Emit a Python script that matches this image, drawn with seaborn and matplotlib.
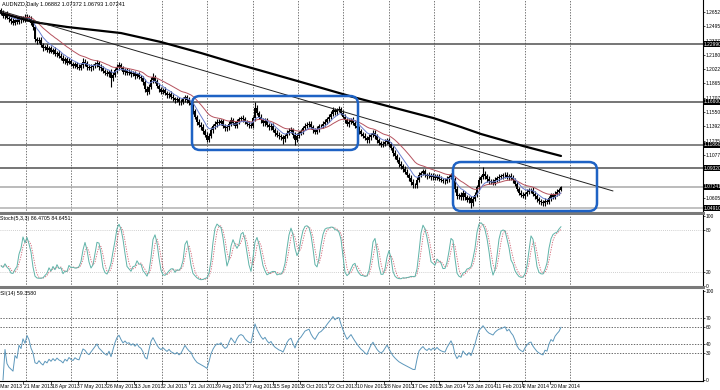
import numpy as np
import pandas as pd
import matplotlib
matplotlib.use("Agg")
import matplotlib.pyplot as plt
import matplotlib.transforms as mtransforms
from matplotlib.patches import FancyBboxPatch
import seaborn as sns

# --- chart text ---
symbol_title = "AUDNZD,Daily 1.06882 1.07372 1.06793 1.07241"
stoch_title = "Stoch(5,3,3) 86.4705 84.6451"
rsi_title = "RSI(14) 59.3580"

# --- daily bars, prices in pips (x 1e4); open = previous close ---
first_open = 12670
closes = [
    12641, 12610, 12625, 12590, 12570, 12555, 12535, 12560, 12545, 12575,
    12560, 12590, 12570, 12600, 12580, 12530, 12490, 12350, 12330, 12345,
    12290, 12250, 12270, 12235, 12255, 12215, 12230, 12190, 12205, 12170,
    12150, 12110, 12130, 12095, 12115, 12080, 12060, 12075, 12050, 12040,
    12070, 12100, 12085, 12050, 12030, 12045, 12060, 12075, 12090, 12050,
    12030, 12005, 11985, 11970, 11990, 11920, 11960, 12010, 12050, 12070,
    12030, 11995, 12010, 11985, 11990, 11965, 11975, 11950, 11965, 11935,
    11920, 11880, 11800, 11770, 11830, 11900, 11935, 11890, 11840, 11800,
    11775, 11790, 11760, 11735, 11750, 11715, 11700, 11680, 11690, 11655,
    11665, 11690, 11715, 11680, 11650, 11630, 11560, 11500, 11440, 11410,
    11380, 11340, 11300, 11245, 11290, 11350, 11390, 11420, 11440, 11430,
    11445, 11400, 11370, 11380, 11420, 11460, 11430, 11400, 11440, 11470,
    11480, 11470, 11440, 11420, 11405, 11400, 11480, 11590, 11540, 11500,
    11460, 11430, 11450, 11410, 11380, 11395, 11350, 11320, 11300, 11280,
    11270, 11250, 11280, 11320, 11345, 11355, 11300, 11245, 11290, 11320,
    11340, 11370, 11400, 11410, 11420, 11380, 11350, 11330, 11360, 11390,
    11400, 11420, 11440, 11470, 11500, 11530, 11570, 11550, 11575, 11580,
    11540, 11500, 11460, 11420, 11440, 11460, 11430, 11400, 11370, 11340,
    11310, 11290, 11260, 11240, 11270, 11300, 11320, 11280, 11240, 11210,
    11190, 11200, 11220, 11240, 11200, 11150, 11100, 11060, 11020, 10980,
    10950, 10920, 10890, 10860, 10820, 10780, 10745, 10740, 10800, 10860,
    10880, 10895, 10860, 10840, 10855, 10830, 10845, 10825, 10840, 10815,
    10800, 10790, 10785, 10810, 10830, 10850, 10810, 10700, 10620, 10640,
    10610, 10655, 10610, 10580, 10600, 10545, 10590, 10640, 10720, 10800,
    10830, 10870, 10840, 10810, 10790, 10780, 10770, 10800, 10820, 10835,
    10840, 10850, 10860, 10830, 10845, 10820, 10800, 10760, 10700, 10660,
    10640, 10625, 10650, 10670, 10685, 10690, 10650, 10620, 10590, 10570,
    10555, 10545, 10570, 10560, 10600, 10630, 10615, 10650, 10670, 10688,
    10724,
]
wick_up = [
    25, 30, 18, 35, 22, 28, 30, 20, 32, 24,
    30, 18, 35, 25, 22, 30, 28, 20, 26, 30,
    32, 25, 20, 30, 26, 22, 28, 35, 20, 25,
    28, 30, 22, 26, 32, 20, 25, 30, 22, 28,
    25, 45, 30, 22, 28, 32, 20, 26, 30, 22,
    26, 30, 22, 32, 25, 30, 28, 22, 30, 35,
    25, 30, 22, 28, 32, 22, 26, 30, 20, 28,
    22, 30, 28, 32, 30, 35, 44, 22, 28, 25,
    28, 22, 30, 26, 22, 32, 28, 20, 26, 22,
    28, 30, 25, 22, 30, 26, 32, 28, 22, 30,
    26, 32, 22, 30, 28, 32, 22, 26, 30, 32,
    28, 32, 22, 26, 30, 32, 28, 22, 30, 26,
    28, 32, 22, 26, 30, 32, 28, 70, 32, 26,
    30, 22, 28, 32, 22, 28, 30, 22, 32, 26,
    28, 30, 22, 32, 28, 30, 22, 26, 32, 22,
    26, 22, 32, 28, 30, 30, 26, 22, 32, 28,
    22, 26, 32, 22, 28, 30, 32, 26, 22, 35,
    26, 30, 32, 22, 28, 22, 30, 26, 22, 28,
    26, 22, 30, 26, 32, 22, 28, 30, 22, 26,
    22, 26, 32, 25, 28, 22, 26, 30, 22, 28,
    28, 22, 30, 26, 22, 32, 28, 22, 32, 28,
    22, 26, 30, 22, 28, 22, 30, 26, 22, 28,
    26, 22, 28, 30, 22, 26, 32, 28, 30, 22,
    28, 32, 22, 30, 26, 22, 32, 28, 30, 32,
    28, 73, 32, 26, 30, 22, 28, 32, 22, 28,
    26, 22, 30, 26, 22, 28, 30, 22, 26, 22,
    32, 26, 22, 30, 28, 22, 28, 30, 22, 28,
    22, 28, 30, 22, 28, 32, 22, 28, 30, 26,
    13,
]
wick_dn = [
    22, 28, 32, 20, 28, 30, 22, 28, 20, 30,
    28, 22, 30, 20, 28, 22, 32, 28, 30, 22,
    28, 32, 22, 28, 30, 20, 28, 22, 32, 28,
    30, 22, 28, 32, 20, 28, 22, 30, 28, 32,
    22, 30, 28, 32, 22, 28, 30, 22, 28, 32,
    28, 22, 30, 28, 32, 95, 28, 22, 28, 32,
    22, 28, 32, 22, 30, 28, 22, 32, 28, 22,
    30, 28, 32, 28, 22, 28, 30, 22, 28, 32,
    28, 30, 22, 32, 28, 22, 30, 28, 22, 28,
    30, 22, 28, 32, 22, 30, 28, 32, 30, 22,
    28, 32, 30, 30, 28, 22, 30, 28, 32, 22,
    28, 22, 32, 28, 30, 22, 28, 32, 22, 28,
    22, 30, 28, 22, 32, 28, 22, 30, 28, 32,
    28, 32, 30, 22, 28, 32, 22, 30, 28, 32,
    28, 54, 30, 22, 28, 30, 32, 60, 28, 22,
    28, 30, 22, 32, 28, 22, 30, 28, 22, 28,
    22, 28, 30, 22, 28, 32, 22, 28, 30, 22,
    28, 22, 30, 28, 32, 22, 28, 30, 22, 28,
    30, 28, 22, 32, 28, 30, 22, 28, 32, 22,
    28, 30, 22, 28, 32, 22, 30, 28, 22, 32,
    28, 30, 22, 28, 32, 30, 28, 30, 28, 22,
    28, 22, 30, 28, 22, 28, 30, 22, 28, 22,
    22, 28, 30, 22, 28, 22, 30, 32, 28, 30,
    32, 28, 30, 22, 32, 54, 28, 22, 30, 28,
    28, 22, 30, 28, 32, 22, 28, 30, 22, 28,
    22, 28, 30, 22, 28, 22, 30, 28, 22, 30,
    32, 28, 30, 22, 28, 32, 22, 28, 30, 32,
    30, 30, 28, 30, 22, 28, 30, 22, 28, 32,
    9,
]

# long moving average (thick black), read at a few bars
ma_long_bars = [0, 16, 33, 60, 80, 100, 120, 150, 176, 216, 230, 240, 261, 280]
ma_long_vals = [1.2641, 1.2542, 1.2487, 1.2420, 1.2321, 1.2200, 1.2068,
                1.1880, 1.1715, 1.1484, 1.1384, 1.1307, 1.1175, 1.1065]
# hand-drawn trend line
trend_bars = [0, 306]
trend_vals = [1.2663, 1.0679]
# horizontal levels with their price tags
level_vals = [1.2299, 1.1660, 1.1186, 1.0932, 1.07241, 1.0491]
level_tags = ["1.22990", "1.16600", "1.11860", "1.09320", "1.07241", "1.04910"]
level_colors = ["#505050", "#505050", "#606060", "#505050", "#a8a8a8", "#b0b0b0"]
# consolidation boxes: bar range, price range
box_bars = [(95.5, 178.5), (226.0, 298.0)]
box_prices = [(1.1131, 1.1726), (1.0458, 1.0998)]

price_ticks = [1.26521, 1.24950, 1.23375, 1.21800, 1.20225, 1.18650, 1.17075,
               1.15500, 1.13925, 1.12350, 1.10775, 1.06050]
date_labels = ["3 Mar 2013", "21 Mar 2013", "18 Apr 2013", "7 May 2013", "26 May 2013",
               "13 Jun 2013", "2 Jul 2013", "21 Jul 2013", "9 Aug 2013", "27 Aug 2013",
               "15 Sep 2013", "3 Oct 2013", "22 Oct 2013", "10 Nov 2013", "28 Nov 2013",
               "17 Dec 2013", "5 Jan 2014", "23 Jan 2014", "11 Feb 2014", "2 Mar 2014",
               "20 Mar 2014"]

# --- build frame and indicators ---
close = np.array(closes) / 1e4
open_ = np.r_[first_open / 1e4, close[:-1]]
high = np.maximum(open_, close) + np.array(wick_up) / 1e4
low = np.minimum(open_, close) - np.array(wick_dn) / 1e4
df = pd.DataFrame({"bar": np.arange(len(close)), "open": open_, "high": high,
                   "low": low, "close": close})

df["ma_fast"] = df["close"].ewm(span=8, adjust=False).mean()
df["ma_slow"] = df["close"].ewm(span=21, adjust=False).mean()

ll = df["low"].rolling(5, min_periods=1).min()
hh = df["high"].rolling(5, min_periods=1).max()
num = (df["close"] - ll).rolling(3, min_periods=1).sum()
den = (hh - ll).rolling(3, min_periods=1).sum()
df["stoch_k"] = 100 * num / den
df["stoch_d"] = df["stoch_k"].rolling(3, min_periods=1).mean()

delta = df["close"].diff()
gain = delta.clip(lower=0).ewm(alpha=1 / 14, adjust=True).mean()
loss = (-delta.clip(upper=0)).ewm(alpha=1 / 14, adjust=True).mean()
df["rsi"] = 100 - 100 / (1 + gain / loss)

sns.set_theme(style="white")
plt.rcParams["font.family"] = ["Liberation Sans Narrow", "Liberation Sans", "DejaVu Sans"]

W, H = 720, 390
fig = plt.figure(figsize=(7.2, 3.9), dpi=100)
ax_p = fig.add_axes([0, 1 - 213 / H, 703 / W, 213 / H])
ax_s = fig.add_axes([0, 1 - 287 / H, 703 / W, 72 / H])
ax_r = fig.add_axes([0, 1 - 381 / H, 703 / W, 91 / H])

xlim = (-0.5, 351.0)
grid_bars = 12.5 + 22.667 * np.arange(13)
fs = 3.5

for ax in (ax_p, ax_s, ax_r):
    ax.set_facecolor("white")
    ax.set_xlim(*xlim)
    for gx in grid_bars:
        ax.axvline(gx, color="#404040", lw=0.5, ls=(0, (2, 2)), zorder=0)
    ax.yaxis.tick_right()
    ax.tick_params(axis="y", labelsize=fs, length=1.5, width=0.5, pad=0.6, colors="black")
    ax.tick_params(axis="x", bottom=False, labelbottom=False)
    ax.set_xlabel("")
    ax.set_ylabel("")
    for side in ("top", "left"):
        ax.spines[side].set_visible(False)
    ax.spines["right"].set_color("black")
    ax.spines["right"].set_linewidth(0.8)

# --- price panel ---
ax_p.set_ylim(1.04361, 1.27844)
for val, col in zip(level_vals, level_colors):
    ax_p.axhline(val, color=col, lw=1.1, zorder=1)
ax_p.vlines(df["bar"], df["low"], df["high"], color="black", lw=0.8, zorder=3)
body_lo = np.minimum(df["open"], df["close"])
body_h = np.maximum(np.abs(df["close"] - df["open"]), 0.0003)
ax_p.bar(df["bar"], body_h, bottom=body_lo, width=0.9, color="black",
         edgecolor="black", linewidth=0, zorder=3)
sns.lineplot(data=df, x="bar", y="ma_slow", ax=ax_p, color="#b5525e", lw=0.7, zorder=4)
sns.lineplot(data=df, x="bar", y="ma_fast", ax=ax_p, color="#6a7fd0", lw=0.7, zorder=4)
sns.lineplot(x=ma_long_bars, y=ma_long_vals, ax=ax_p, color="black", lw=1.6, zorder=5)
sns.lineplot(x=trend_bars, y=trend_vals, ax=ax_p, color="#202020", lw=0.7, zorder=5)

for (b0, b1), (p0, p1) in zip(box_bars, box_prices):
    ax_p.add_patch(FancyBboxPatch((b0, p0), b1 - b0, p1 - p0,
                                  boxstyle="round,pad=0,rounding_size=4",
                                  mutation_aspect=0.002205, fill=False,
                                  edgecolor="#1e62c4", lw=1.8, zorder=6))

ax_p.set_yticks(price_ticks)
ax_p.set_yticklabels([f"{v:.5f}" for v in price_ticks])
ax_p.spines["bottom"].set_color("#7a7a7a")
ax_p.spines["bottom"].set_linewidth(2.2)
tag_tr = mtransforms.blended_transform_factory(ax_p.transAxes, ax_p.transData)
for val, tag in zip(level_vals, level_tags):
    ax_p.text(1.0015, val, tag, transform=tag_tr, fontsize=fs, color="white",
              va="center", ha="left", clip_on=False, zorder=10,
              bbox=dict(facecolor="black", edgecolor="none", pad=0.3))
ax_p.text(0.003, 0.992, symbol_title, transform=ax_p.transAxes, fontsize=fs + 0.5,
          va="top", ha="left", color="black")

# --- stochastic panel ---
ax_s.set_ylim(-1.5, 101.5)
for lv in (20, 80):
    ax_s.axhline(lv, color="#c0c0c0", lw=0.6, ls=(0, (1, 1.5)), zorder=1)
sns.lineplot(data=df, x="bar", y="stoch_d", ax=ax_s, color="#d06070", lw=0.6,
             ls=(0, (1.5, 1.5)), zorder=3)
sns.lineplot(data=df, x="bar", y="stoch_k", ax=ax_s, color="#5fb3a8", lw=0.7, zorder=4)
ax_s.set_yticks([0, 20, 80, 100])
ax_s.set_yticklabels(["0", "20", "80", "100"])
ax_s.spines["bottom"].set_color("#7a7a7a")
ax_s.spines["bottom"].set_linewidth(2.2)
ax_s.text(0.0, 0.985, stoch_title, transform=ax_s.transAxes, fontsize=fs + 0.3,
          va="top", ha="left", color="black")

# --- RSI panel ---
ax_r.set_ylim(-1.1, 101.1)
for lv in (30, 40, 60, 70):
    ax_r.axhline(lv, color="#303030", lw=0.5, ls=(0, (2, 2)), zorder=1)
sns.lineplot(data=df, x="bar", y="rsi", ax=ax_r, color="#5c97bb", lw=0.7, zorder=3)
ax_r.set_yticks([0, 30, 40, 60, 70, 100])
ax_r.set_yticklabels(["0", "30", "40", "60", "70", "100"])
ax_r.spines["bottom"].set_color("black")
ax_r.spines["bottom"].set_linewidth(0.8)
ax_r.text(-0.004, 0.985, rsi_title, transform=ax_r.transAxes, fontsize=fs + 0.3,
          va="top", ha="left", color="black")

lab_tr = mtransforms.blended_transform_factory(ax_r.transData, ax_r.transAxes)
label_bars = -2.9 + 13.87 * np.arange(len(date_labels))
for lb, txt in zip(label_bars, date_labels):
    ax_r.plot([lb, lb], [0, -0.03], transform=lab_tr, color="black", lw=0.5, clip_on=False)
    ax_r.text(lb + 0.6, -0.035, txt, transform=lab_tr, fontsize=fs + 0.2, va="top",
              ha="left", color="black", clip_on=False)

fig.savefig("out.png", dpi=100)
